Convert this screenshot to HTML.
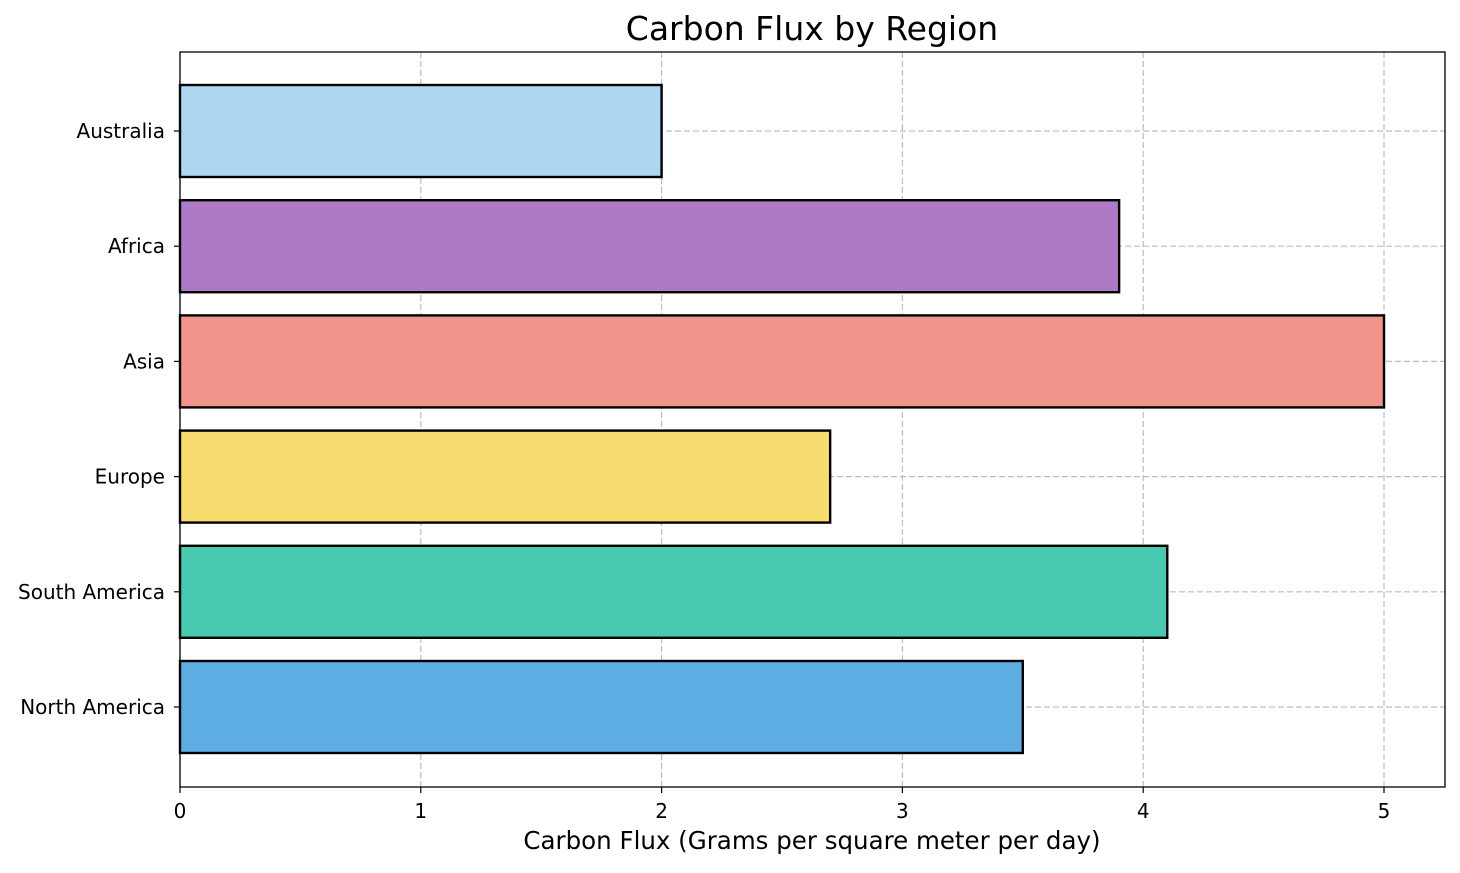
<!DOCTYPE html>
<html><head><meta charset="utf-8"><style>
body{margin:0;background:#fff;font-family:"DejaVu Sans","Liberation Sans",sans-serif}
</style></head><body>
<svg width="1460" height="869" xmlns="http://www.w3.org/2000/svg" font-family="DejaVu Sans, Liberation Sans, sans-serif">
<g id="grid"></g>
<g id="bars"></g>
<rect x="180" y="52" width="1265" height="735" fill="none" stroke="#000" stroke-width="1.3"/>
<g id="ticks"></g>
<text x="812" y="40" text-anchor="middle" font-size="33">Carbon Flux by Region</text>
<text x="812" y="849" text-anchor="middle" font-size="24.5">Carbon Flux (Grams per square meter per day)</text>
</svg>
<script>
const categories=["North America","South America","Europe","Asia","Africa","Australia"];
const values=[3.5,4.1,2.7,5.0,3.9,2.0];
const colors=["#5dade2","#48c9b0","#f7dc6f","#f1948a","#af7ac5","#aed6f1"];
const xTicks=[0,1,2,3,4,5];
const NS="http://www.w3.org/2000/svg";
const x=v=>180+v*240.8;
const y=i=>707-i*115.2;
const g=document.getElementById('grid'),b=document.getElementById('bars'),t=document.getElementById('ticks');
function mk(tag,at,p){const e=document.createElementNS(NS,tag);for(const k in at)e.setAttribute(k,at[k]);p.appendChild(e);return e;}
xTicks.forEach(v=>{
  const l=mk('line',{x1:x(v),x2:x(v),y1:52,y2:787,stroke:'#bdbdbd','stroke-dasharray':'6,3','stroke-width':1.2},g);
  
  
  const tk=mk('line',{x1:x(v),x2:x(v),y1:787,y2:793,stroke:'#000','stroke-width':1.2},t);
  
  
  const tx=mk('text',{x:x(v),y:818,'text-anchor':'middle','font-size':20},t);tx.textContent=v;
  
  
});
categories.forEach((c,i)=>{
  const l=mk('line',{x1:180,x2:1445,y1:y(i),y2:y(i),stroke:'#bdbdbd','stroke-dasharray':'6,3','stroke-width':1.2},g);
  
  
  const r=mk('rect',{x:x(0),y:y(i)-46,width:x(values[i])-x(0),height:92,fill:colors[i],stroke:'#000','stroke-width':2.4},b);
  
  
  const tk=mk('line',{x1:174,x2:180,y1:y(i),y2:y(i),stroke:'#000','stroke-width':1.2},t);
  
  
  const tx=mk('text',{x:165,y:y(i)+7,'text-anchor':'end','font-size':20},t);tx.textContent=c;
  
  
});
</script>
</body></html>
